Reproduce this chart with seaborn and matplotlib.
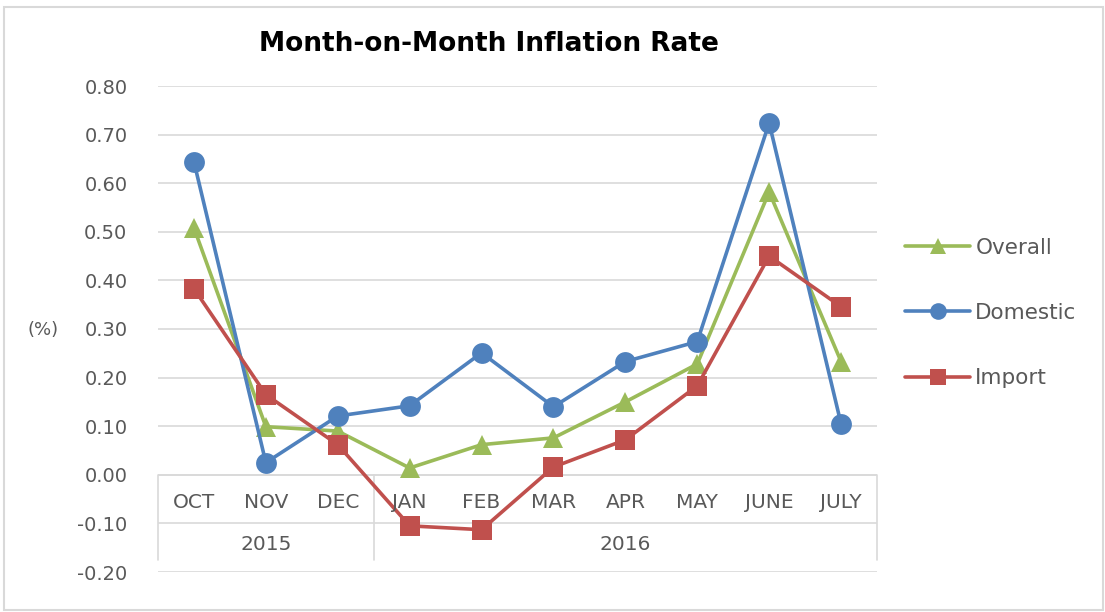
import matplotlib
matplotlib.use("Agg")
import matplotlib.pyplot as plt
from matplotlib.lines import Line2D
from matplotlib.patches import Rectangle
import numpy as np
import pandas as pd
import seaborn as sns

months = ["OCT", "NOV", "DEC", "JAN", "FEB", "MAR", "APR", "MAY", "JUNE", "JULY"]
years = ["2015", "2016"]
year_spans = [(0, 2), (3, 9)]  # first and last month index of each year
series_names = ["Overall", "Domestic", "Import"]

overall = [0.508, 0.099, 0.090, 0.014, 0.062, 0.076, 0.150, 0.228, 0.582, 0.233]
domestic = [0.644, 0.025, 0.121, 0.142, 0.251, 0.140, 0.233, 0.274, 0.724, 0.105]
imports = [0.383, 0.165, 0.062, -0.105, -0.113, 0.016, 0.072, 0.183, 0.450, 0.346]

colors = {"Overall": "#9BBB59", "Domestic": "#4F81BD", "Import": "#C0504D"}
markers = {"Overall": "^", "Domestic": "o", "Import": "s"}

rows = []
for name, vals in zip(series_names, [overall, domestic, imports]):
    for i, v in enumerate(vals):
        rows.append({"idx": i, "month": months[i], "series": name, "value": v})
df = pd.DataFrame(rows)

sns.set_style("white")
plt.rcParams['font.family'] = ['DejaVu Sans']
grey = "#595959"
line_grey = "#D9D9D9"

W, H = 1105, 612
fig = plt.figure(figsize=(W / 100, H / 100), dpi=100)
fig.patches.append(Rectangle((4 / W, 2 / H), (W - 6) / W, (H - 9) / H, transform=fig.transFigure,
                             fill=False, edgecolor=line_grey, linewidth=1.5))

ax = fig.add_axes([158 / W, 1 - 572 / H, (877 - 158) / W, (572 - 86) / H])
sns.lineplot(data=df, x="idx", y="value", hue="series", style="series", hue_order=series_names,
             style_order=series_names, palette=colors, markers=markers, dashes=False,
             linewidth=2.6, markersize=15, markeredgewidth=0, legend=False, ax=ax)

ax.set_xlim(-0.5, 9.5)
ax.set_ylim(-0.2, 0.8)
ax.set_yticks(np.round(np.arange(-0.2, 0.81, 0.1), 2))
ax.set_yticklabels([f"{t:.2f}" for t in np.arange(-0.2, 0.81, 0.1)], color=grey, fontsize=14)
ax.tick_params(axis="y", length=0, pad=22)
ax.set_xticks([])
ax.set_xlabel("")
ax.set_ylabel("")
for s in ax.spines.values():
    s.set_visible(False)
ax.yaxis.grid(True, color=line_grey, linewidth=1.2)
ax.set_axisbelow(True)

# multi-level category axis
ax.axhline(0, color=line_grey, linewidth=1.2, zorder=1)
y_bottom = -0.175
for xv in [-0.5, 2.5, 9.5]:
    ax.plot([xv, xv], [0, y_bottom], color=line_grey, linewidth=1.2, clip_on=False, zorder=1)
for i, m in enumerate(months):
    ax.text(i, -0.058, m, ha="center", va="center", color=grey, fontsize=14.5)
for yr, (a, b) in zip(years, year_spans):
    ax.text((a + b) / 2, -0.144, yr, ha="center", va="center", color=grey, fontsize=14.5)

fig.text(43 / W, 1 - 330 / H, "(%)", ha="center", va="center", color=grey, fontsize=13)
fig.text(489 / W, 1 - 44 / H, "Month-on-Month Inflation Rate", ha="center", va="center",
         fontsize=19, fontweight="bold", color="black")

handles = [Line2D([0], [0], color=colors[n], marker=markers[n], markersize=12, linewidth=2.6,
                  markeredgewidth=0) for n in series_names]
fig.legend(handles, series_names, loc="center left", bbox_to_anchor=(886 / W, 1 - 313 / H),
           frameon=False, fontsize=15.5, labelspacing=2.1, handlelength=3.0, handletextpad=0.25,
           labelcolor=grey)

fig.savefig("out.png", dpi=100)
